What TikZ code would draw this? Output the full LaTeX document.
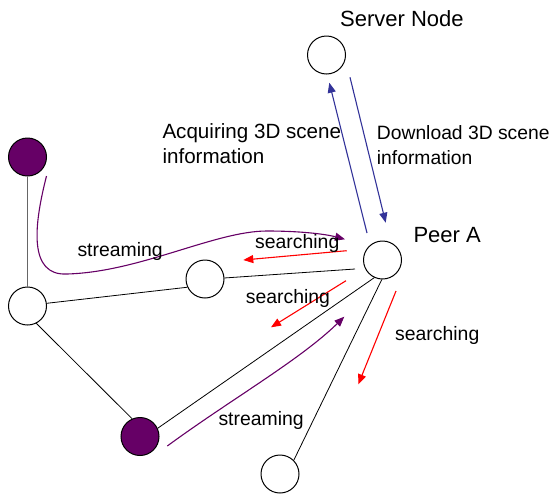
\documentclass[tikz,border=0pt]{standalone}
\usepackage{fontspec}
\setmainfont{Liberation Sans}
\usetikzlibrary{arrows.meta}
\definecolor{peerpurple}{HTML}{660066}
\definecolor{linkblue}{HTML}{333399}
\definecolor{linkgrey}{HTML}{666666}
\newcommand{\twolines}[2]{\vtop{\baselineskip=25.5pt\hbox{#1}\hbox{#2}}}
\begin{document}
\begin{tikzpicture}[x=1pt,y=-1pt,
  peernode/.style={circle,draw=black,line width=1pt,minimum size=38pt,inner sep=0pt},
  filledpeer/.style={peernode,fill=peerpurple},
  plainlink/.style={draw=black,line width=0.8pt},
  greylink/.style={draw=linkgrey,line width=1.3pt},
  flowarrow/.style={line width=1.1pt,-{Triangle[length=10pt,width=8pt]}},
  blueflow/.style={flowarrow,linkblue},
  redflow/.style={flowarrow,red},
  purpleflow/.style={flowarrow,peerpurple},
  nodetitle/.style={anchor=base west,inner sep=0pt,font=\fontsize{22}{26}\selectfont},
  infotext/.style={anchor=base west,inner sep=0pt,font=\fontsize{20.6}{25}\selectfont},
  flowtext/.style={anchor=base west,inner sep=0pt,font=\fontsize{19.4}{23}\selectfont}]
\useasboundingbox (0,0) rectangle (551,493);

% peers
\node[peernode] (server) at (326.5,55) {};
\node[peernode] (peerA) at (382.5,260) {};
\node[filledpeer] (p1) at (27.5,157) {};
\node[peernode] (w1) at (27.5,306) {};
\node[peernode] (w2) at (205,279) {};
\node[filledpeer] (p2) at (140,436.5) {};
\node[peernode] (w3) at (280,474) {};

% overlay links
\coordinate (w2end) at (355,269);
\draw[greylink] (p1.south) -- (w1.north);
\draw[plainlink] (w1.8) -- (w2.205);
\draw[plainlink] (w2.3) -- (w2end);
\draw[plainlink] (w1.-63) -- (p2.114);
\draw[plainlink] (p2.25) -- (peerA.-115);
\draw[plainlink] (w3.45) -- (peerA.-92);

% requests to and from the server
\coordinate (acqA) at (367,233);
\coordinate (acqB) at (329.3,82.7);
\coordinate (dlA) at (350,77.3);
\coordinate (dlB) at (385.7,222.7);
\draw[blueflow] (acqA) -- (acqB);
\draw[blueflow] (dlA) -- (dlB);

% searching messages
\coordinate (sa1) at (346.7,250.7);
\coordinate (sb1) at (243.3,260);
\coordinate (sa2) at (346,280.7);
\coordinate (sb2) at (271,327.3);
\coordinate (sa3) at (396,291);
\coordinate (sb3) at (358.3,384.3);
\draw[redflow] (sa1) -- (sb1);
\draw[redflow] (sa2) -- (sb2);
\draw[redflow] (sa3) -- (sb3);

% streaming paths
\coordinate (ta1) at (46.5,176);
\coordinate (tb1) at (345,239.3);
\coordinate (ta2) at (167.3,446);
\coordinate (tb2) at (344.3,316.7);
\draw[purpleflow] (ta1) .. controls (34,225) and (28,276) .. (67,274)
  .. controls (140,272) and (215,231) .. (267,231)
  .. controls (300,231) and (325,234) .. (tb1);
\draw[purpleflow] (ta2) .. controls (230,400) and (300,360) .. (tb2);

% labels
\node[nodetitle] (lserver) at (340,26.7) {Server Node};
\node[nodetitle] (lpeer) at (413.3,242.3) {Peer A};
\node[infotext] (lacq) at (162.3,138.3) {\twolines{Acquiring 3D scene}{information}};
\node[infotext,font=\fontsize{19.3}{25}\selectfont] (ldl) at (376.7,139) {\twolines{Download 3D scene}{information}};
\node[flowtext] (lst1) at (77.3,256.7) {streaming};
\node[flowtext] (lse1) at (255,248.3) {searching};
\node[flowtext] (lse2) at (245.7,303.3) {searching};
\node[flowtext] (lse3) at (395,340) {searching};
\node[flowtext] (lst2) at (218.3,425) {streaming};
\end{tikzpicture}
\end{document}
